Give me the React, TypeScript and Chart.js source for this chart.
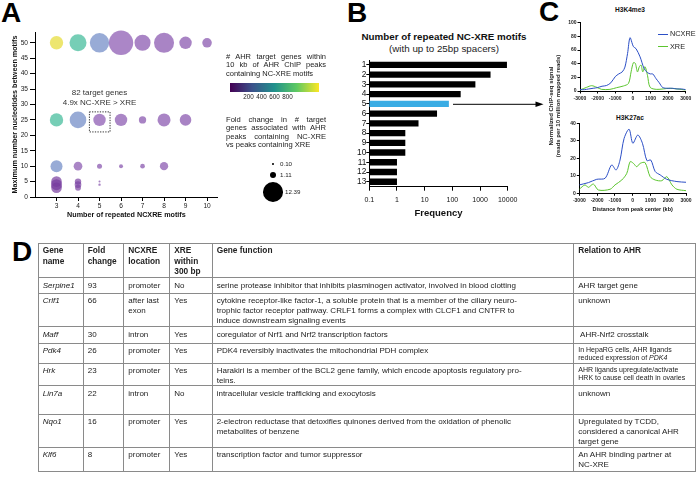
import React, { useEffect, useRef } from "react";
import { Chart, registerables } from "chart.js";

Chart.register(...registerables);

const FONT = '"Liberation Sans", Arial, Helvetica, sans-serif';
const BLUE = "#2c4fc6";
const GREEN = "#5cc52f";

// ---------- Panel A: bubble chart ----------
const bubbleX = [3, 4, 5, 6, 7, 8, 9, 10, 3, 4, 5, 6, 7, 8, 9, 3, 4, 5, 6, 7, 8, 3, 3, 3, 4, 4, 4, 5, 5];
const bubbleY = [50, 50, 50, 50, 50, 50, 50, 50, 25, 25, 25, 25, 25, 25, 25, 10, 10, 10, 10, 10, 10, 5, 4, 3, 5, 4, 3, 5, 4];
const bubbleFold = [5.7, 9.2, 12.0, 19.0, 8.2, 12.8, 4.9, 2.9, 5.7, 8.8, 4.9, 4.9, 1.7, 5.4, 4.3, 4.6, 2.4, 0.8, 0.5, 0.7, 2.2, 3.6, 3.9, 3.6, 1.3, 1.4, 1.1, 0.13, 0.18];
const bubbleGenes = [920, 560, 360, 180, 170, 170, 165, 165, 560, 360, 180, 175, 165, 170, 165, 360, 175, 165, 160, 160, 170, 110, 110, 110, 130, 130, 130, 160, 160];
const aXTicks = [3, 4, 5, 6, 7, 8, 9, 10];
const aYTicks = [0, 5, 10, 15, 20, 25, 30, 35, 40, 45, 50];
const annoLines = ["82 target genes", "4.9x NC-XRE > XRE"];
const annoLineY = [33.8, 30.5];
const annoTextX = 5;
const annoBox = { x0: 4.53, x1: 5.49, y0: 21.1, y1: 27.6 };

// legend of panel A
const geneLegendTicks = [200, 400, 600, 800];
const geneLegendRange = [-85, 1285];
const foldLegend = [0.1, 1.11, 12.39];
const foldLegendLabels = ["0.10", "1.11", "12.39"];

// ---------- Panel B: horizontal log bars ----------
const motifCounts = ["1", "2", "3", "4", "5", "6", "7", "8", "9", "10", "11", "12", "13"];
const motifFreq = [9400, 2400, 680, 200, 75, 28, 6, 2, 2, 2, 1, 1, 1];
const highlightedCount = "5";
const freqTicks = [0.1, 1, 10, 100, 1000, 10000];

// ---------- Panel C: profiles ----------
const distTicks = [-3000, -2000, -1000, 0, 1000, 2000, 3000];
const k4Ticks = [0, 20, 40, 60, 80, 100];
const k27Ticks = [0, 10, 20, 30, 40];

const k4NcPos = [-3000, -2750, -2500, -2250, -2000, -1750, -1500, -1250, -1000, -800, -600, -450, -300, -160, 30, 180, 410, 636, 826, 1000, 1130, 1320, 1500, 1700, 2000, 2250, 2500, 2750, 3000];
const k4NcVal = [2, 2, 3, 4, 5, 7, 8, 12, 21, 25, 28, 35, 55, 78, 65, 62, 50, 33, 27, 25, 25, 18, 12, 5, 4, 4, 3, 3, 2];
const k4XrPos = [-3000, -2620, -2340, -2050, -1770, -1300, -920, -540, -250, -100, 30, 140, 260, 370, 470, 560, 690, 830, 980, 1360, 2110, 3000];
const k4XrVal = [1.5, 5.4, 7.8, 5.4, 2.4, 2.4, 4.9, 7.3, 11, 28, 41.5, 40.5, 28, 35.6, 38, 28, 35.6, 23, 5.4, 2.4, 3.9, 1.5];

const k27NcPos = [-3000, -2490, -2020, -1550, -1180, -930, -710, -480, -200, 10, 290, 550, 800, 1020, 1270, 1550, 1920, 2490, 3000];
const k27NcVal = [4.8, 6.1, 8, 8.6, 16.2, 13.3, 19, 31.4, 36.6, 28.6, 33.3, 28.6, 18.7, 19, 12.4, 10.5, 8, 6.7, 6.3];
const k27XrPos = [-3000, -2680, -2490, -2210, -1930, -1270, -990, -610, -330, -140, 45, 230, 420, 700, 985, 1270, 1640, 1920, 2210, 2490, 3000];
const k27XrVal = [2.3, 4.8, 3.4, 5.3, 1.9, 2.3, 4.8, 7.6, 11.4, 18.1, 17.1, 15.2, 17.1, 17.5, 9.5, 7.6, 7.2, 9.5, 4.8, 2.3, 1.5];

// ---------- Panel D: table ----------
const tableHeaders = ["Gene\nname", "Fold\nchange", "NCXRE\nlocation", "XRE\nwithin\n300 bp", "Gene function", "Relation to AHR"];
const geneNames = ["Serpine1", "Crlf1", "Maff", "Pdk4", "Hrk", "Lin7a", "Nqo1", "Klf6"];
const foldChange = ["93", "66", "30", "26", "23", "22", "16", "8"];
const ncxreLocation = ["promoter", "after last\nexon", "intron", "promoter", "promoter", "intron", "promoter", "promoter"];
const xreWithin = ["No", "Yes", "Yes", "Yes", "Yes", "No", "Yes", "Yes"];
const geneFunction = [
  "serine protease inhibitor that inhibits plasminogen activator, involved in blood clotting",
  "cytokine receptor-like factor-1, a soluble protein that is a member of the ciliary neuro-\ntrophic factor receptor pathway. CRLF1 forms a complex with CLCF1 and CNTFR to\ninduce downstream signaling events",
  "coregulator of Nrf1 and Nrf2 transcription factors",
  "PDK4 reversibly inactivates the mitochondrial PDH complex",
  "Harakiri is a member of the BCL2 gene family, which encode apoptosis regulatory pro-\nteins.",
  "intracellular vesicle trafficking and exocytosis",
  "2-electron reductase that detoxifies quinones derived from the oxidation of phenolic\nmetabolites of benzene",
  "transcription factor and tumor suppressor",
];
const relationToAhr = [
  "AHR target gene",
  "unknown",
  " AHR-Nrf2 crosstalk",
  "In HepaRG cells, AHR ligands\nreduced expression of *PDK4*",
  "AHR ligands upregulate/activate\nHRK to cause cell death in ovaries",
  "unknown",
  "Upregulated by TCDD,\nconsidered a canonical AHR\ntarget gene",
  "An AHR binding partner at\nNC-XRE",
];
const relationSmall = [false, false, false, true, true, false, false, false];
const colWidths = [45, 40.6, 46, 42.4, 361.6, 121.7];
const rowHeights = [15.7, 33.5, 16.2, 19, 21.6, 28.7, 33, 24.3];

// ---------- helpers ----------
const foldRadius = (f: number) => 2.8 * Math.sqrt(f);

const colorStops: [number, number[]][] = [
  [80, [110, 50, 150]],
  [200, [140, 90, 180]],
  [350, [111, 132, 199]],
  [550, [55, 184, 154]],
  [950, [244, 222, 42]],
];
function geneColor(g: number) {
  let i = 0;
  while (i < colorStops.length - 2 && g > colorStops[i + 1][0]) i++;
  const [g0, c0] = colorStops[i];
  const [g1, c1] = colorStops[i + 1];
  const t = Math.max(0, Math.min(1, (g - g0) / (g1 - g0)));
  const c = c0.map((v, k) => Math.round(v + (c1[k] - v) * t));
  return `rgba(${c[0]},${c[1]},${c[2]},0.7)`;
}

const fixedTicks = (vals: number[]) => (s: any) => {
  s.ticks = vals.map((v) => ({ value: v }));
};

const annotationPlugin = {
  id: "annoA",
  afterDatasetsDraw(chart: any) {
    const { ctx } = chart;
    const xs = chart.scales.x;
    const ys = chart.scales.y;
    ctx.save();
    ctx.strokeStyle = "#333";
    ctx.lineWidth = 1;
    ctx.setLineDash([1.3, 1.3]);
    const x0 = xs.getPixelForValue(annoBox.x0);
    const x1 = xs.getPixelForValue(annoBox.x1);
    const y0 = ys.getPixelForValue(annoBox.y1);
    const y1 = ys.getPixelForValue(annoBox.y0);
    ctx.strokeRect(x0, y0, x1 - x0, y1 - y0);
    ctx.setLineDash([]);
    ctx.fillStyle = "#333";
    ctx.font = `8px ${FONT}`;
    ctx.textAlign = "center";
    ctx.textBaseline = "middle";
    annoLines.forEach((l, i) => {
      ctx.fillText(l, xs.getPixelForValue(annoTextX), ys.getPixelForValue(annoLineY[i]));
    });
    ctx.restore();
  },
};

const axisGrid = (len: number) => ({ drawOnChartArea: false, tickLength: len, color: "#000", lineWidth: 1 });
const axisBorder = { color: "#000", width: 1 };

function configA() {
  return {
    type: "bubble",
    data: {
      datasets: [
        {
          data: bubbleX.map((x, i) => ({ x, y: bubbleY[i], r: foldRadius(bubbleFold[i]) })),
          backgroundColor: bubbleGenes.map(geneColor),
          borderWidth: 0,
          hoverBorderWidth: 0,
          clip: false,
        },
      ],
    },
    options: {
      responsive: false,
      animation: false,
      events: [],
      layout: { padding: { top: 32, right: 10, left: 0, bottom: 0 } },
      plugins: { legend: { display: false }, tooltip: { enabled: false } },
      scales: {
        x: {
          type: "linear",
          min: 2,
          max: 10.5,
          afterBuildTicks: fixedTicks(aXTicks),
          afterFit: (s: any) => {
            s.height = 28;
          },
          grid: axisGrid(4),
          border: axisBorder,
          ticks: { callback: (v: any) => String(v), font: { size: 6.6, family: FONT }, color: "#222", padding: 1, maxRotation: 0, autoSkip: false },
          title: {
            display: true,
            text: "Number of repeated NCXRE motifs",
            font: { size: 7.2, weight: "bold", family: FONT },
            color: "#111",
            padding: { top: 0, bottom: 5.7 },
          },
        },
        y: {
          type: "linear",
          min: 0,
          max: 53.5,
          afterBuildTicks: fixedTicks(aYTicks),
          afterFit: (s: any) => {
            s.width = 35;
          },
          grid: axisGrid(5),
          border: axisBorder,
          ticks: { callback: (v: any) => String(v), font: { size: 6.6, family: FONT }, color: "#222", padding: 2, autoSkip: false },
          title: {
            display: true,
            text: "Maximum number nucleotides between motifs",
            font: { size: 7.2, weight: "bold", family: FONT },
            color: "#111",
            padding: { top: 10.7, bottom: 0 },
          },
        },
      },
    },
    plugins: [annotationPlugin],
  };
}

function configB() {
  return {
    type: "bar",
    data: {
      labels: motifCounts,
      datasets: [
        {
          data: motifFreq,
          backgroundColor: motifCounts.map((c) => (c === highlightedCount ? "#39ace4" : "#000")),
          barPercentage: 0.66,
          categoryPercentage: 1,
        },
      ],
    },
    options: {
      indexAxis: "y",
      responsive: false,
      animation: false,
      events: [],
      layout: { padding: { top: 5, right: 32.3, left: 0, bottom: 0 } },
      plugins: { legend: { display: false }, tooltip: { enabled: false } },
      scales: {
        x: {
          type: "logarithmic",
          min: 0.1,
          max: 10000,
          afterBuildTicks: fixedTicks(freqTicks),
          afterFit: (s: any) => {
            s.height = 33.3;
          },
          grid: axisGrid(4),
          border: axisBorder,
          ticks: { callback: (v: any) => String(v), font: { size: 7, family: FONT }, color: "#111", padding: 5, maxRotation: 0, autoSkip: false },
          title: {
            display: true,
            text: "Frequency",
            font: { size: 9.5, weight: "bold", family: FONT },
            color: "#111",
            padding: { top: 0, bottom: 1 },
          },
        },
        y: {
          afterFit: (s: any) => {
            s.width = 49.3;
          },
          grid: { ...axisGrid(3), offset: false },
          border: axisBorder,
          ticks: { font: { size: 8.3, family: FONT }, color: "#111", padding: 0, autoSkip: false },
        },
      },
    },
  };
}

function configC(o: any) {
  const line = (xs: number[], ys: number[], color: string) => ({
    data: xs.map((x, i) => ({ x, y: ys[i] })),
    borderColor: color,
    backgroundColor: color,
    showLine: true,
    pointRadius: 0,
    borderWidth: 1,
    tension: 0.3,
  });
  return {
    type: "scatter",
    data: { datasets: [line(o.ncX, o.ncY, BLUE), line(o.xrX, o.xrY, GREEN)] },
    options: {
      responsive: false,
      animation: false,
      events: [],
      layout: { padding: { top: o.padTop, right: o.padRight, left: 0, bottom: 0 } },
      plugins: { legend: { display: false }, tooltip: { enabled: false } },
      scales: {
        x: {
          type: "linear",
          min: -3000,
          max: 3000,
          afterBuildTicks: fixedTicks(distTicks),
          afterFit: (s: any) => {
            s.height = o.xHeight;
          },
          grid: axisGrid(2.5),
          border: axisBorder,
          ticks: { callback: (v: any) => String(v), font: { size: 5, weight: "bold", family: FONT }, color: "#222", padding: o.xTickPad, maxRotation: 0, autoSkip: false },
          title: o.xTitle
            ? { display: true, text: o.xTitle, font: { size: 5.5, weight: "bold", family: FONT }, color: "#111", padding: { top: 0, bottom: o.titlePad } }
            : { display: false },
        },
        y: {
          type: "linear",
          min: 0,
          max: o.yMax,
          afterBuildTicks: fixedTicks(o.yTicks),
          afterFit: (s: any) => {
            s.width = o.yWidth;
          },
          grid: axisGrid(2.5),
          border: axisBorder,
          ticks: { callback: (v: any) => String(v), font: { size: 5, weight: "bold", family: FONT }, color: "#222", padding: 1, autoSkip: false },
        },
      },
    },
  };
}

function ChartCanvas({ left, top, width, height, make }: any) {
  const ref = useRef<HTMLCanvasElement>(null);
  useEffect(() => {
    const chart = new Chart(ref.current as HTMLCanvasElement, make());
    return () => chart.destroy();
  }, []);
  return <canvas ref={ref} width={width} height={height} style={{ position: "absolute", left, top, width, height }} />;
}

function T({ x, y, size, bold, italic, align = "center", color = "#111", children }: any) {
  return (
    <div
      style={{
        position: "absolute",
        left: x,
        top: y,
        fontSize: size,
        fontWeight: bold ? "bold" : "normal",
        fontStyle: italic ? "italic" : "normal",
        color,
        lineHeight: `${size * 1.2}px`,
        whiteSpace: "nowrap",
        transform: align === "center" ? "translate(-50%,-50%)" : "translate(0,-50%)",
      }}
    >
      {children}
    </div>
  );
}

function JustLines({ x, y, dy, width, size, lines }: any) {
  return (
    <>
      {lines.map((l: string, i: number) => (
        <div
          key={i}
          style={{
            position: "absolute",
            left: x,
            top: y + i * dy,
            width,
            fontSize: size,
            lineHeight: `${size * 1.2}px`,
            transform: "translateY(-50%)",
            textAlign: "justify",
            textAlignLast: i < lines.length - 1 ? "justify" : "left",
            whiteSpace: "nowrap",
            color: "#222",
          } as any}
        >
          {l}
        </div>
      ))}
    </>
  );
}

function Letter({ x, y, ch }: any) {
  return (
    <div style={{ position: "absolute", left: x, top: y, fontSize: 28, fontWeight: "bold", lineHeight: "28px", color: "#000" }}>{ch}</div>
  );
}

function renderRich(s: string) {
  return s.split("*").map((part, i) => (i % 2 === 1 ? <i key={i}>{part}</i> : <React.Fragment key={i}>{part}</React.Fragment>));
}

function GeneTable() {
  const cell: any = {
    border: "1px solid #8a8a8a",
    padding: "2.4px 2px 0 4px",
    verticalAlign: "top",
    whiteSpace: "pre",
    lineHeight: "9.6px",
    overflow: "hidden",
  };
  return (
    <table
      style={{
        position: "absolute",
        left: 37.7,
        top: 243.3,
        width: 657.3,
        borderCollapse: "collapse",
        tableLayout: "fixed",
        border: "1.5px solid #555",
        fontSize: 8,
        fontFamily: FONT,
        color: "#222",
      }}
    >
      <colgroup>
        {colWidths.map((w, i) => (
          <col key={i} style={{ width: w }} />
        ))}
      </colgroup>
      <tbody>
        <tr style={{ height: 34 }}>
          {tableHeaders.map((h, i) => (
            <td key={i} style={{ ...cell, fontWeight: "bold", fontSize: 8.3, lineHeight: "10.5px", paddingTop: 1.2 }}>
              {h}
            </td>
          ))}
        </tr>
        {geneNames.map((g, r) => (
          <tr key={g} style={{ height: rowHeights[r] }}>
            <td style={{ ...cell, fontStyle: "italic" }}>{g}</td>
            <td style={cell}>{foldChange[r]}</td>
            <td style={cell}>{ncxreLocation[r]}</td>
            <td style={cell}>{xreWithin[r]}</td>
            <td style={cell}>{geneFunction[r]}</td>
            <td style={relationSmall[r] ? { ...cell, fontSize: 7, lineHeight: "8.5px", paddingTop: 2 } : cell}>{renderRich(relationToAhr[r])}</td>
          </tr>
        ))}
      </tbody>
    </table>
  );
}

export default function App() {
  const cbLeft = 230;
  const cbWidth = 89;
  const cbPos = (v: number) => cbLeft + ((v - geneLegendRange[0]) / (geneLegendRange[1] - geneLegendRange[0])) * cbWidth;
  const foldLegendY = [164, 175, 191.7];
  const foldLabelX = [280, 280, 285];
  return (
    <div
      style={{
        position: "absolute",
        left: 0,
        top: 0,
        width: 700,
        height: 477,
        background: "#fff",
        overflow: "hidden",
        fontFamily: FONT,
      }}
    >
      <Letter x={1} y={-0.7} ch="A" />
      <Letter x={347} y={-0.7} ch="B" />
      <Letter x={539} y={-1.7} ch="C" />
      <Letter x={12} y={238.3} ch="D" />

      {/* Panel A */}
      <ChartCanvas left={0} top={0} width={230} height={225} make={configA} />
      <JustLines x={226} y={55.7} dy={8.5} width={100} size={7.5} lines={["# AHR target genes within", "10 kb of AHR ChIP peaks", "containing NC-XRE motifs"]} />
      <div
        style={{
          position: "absolute",
          left: cbLeft,
          top: 83.3,
          width: cbWidth,
          height: 8.4,
          background: "linear-gradient(to right, #440154, #3b528b 25%, #21918c 50%, #5ec962 75%, #fde725)",
        }}
      />
      {geneLegendTicks.map((v) => (
        <T key={v} x={cbPos(v)} y={97.3} size={6.3} color="#222">
          {String(v)}
        </T>
      ))}
      <JustLines
        x={226}
        y={120}
        dy={8.35}
        width={100}
        size={7.6}
        lines={["Fold change in # target", "genes associated with AHR", "peaks containing NC-XRE", "vs peaks containing XRE"]}
      />
      {foldLegend.map((f, i) => {
        const r = foldRadius(f);
        return (
          <React.Fragment key={i}>
            <div
              style={{
                position: "absolute",
                left: 273.3 - r,
                top: foldLegendY[i] - r,
                width: 2 * r,
                height: 2 * r,
                borderRadius: "50%",
                background: "#000",
              }}
            />
            <T x={foldLabelX[i]} y={foldLegendY[i]} size={6.2} align="left" color="#222">
              {foldLegendLabels[i]}
            </T>
          </React.Fragment>
        );
      })}

      {/* Panel B */}
      <T x={444} y={36.7} size={9.8} bold>
        Number of repeated NC-XRE motifs
      </T>
      <T x={444} y={49.3} size={9.8} color="#222">
        (with up to 25bp spacers)
      </T>
      <ChartCanvas left={320} top={55} width={220} height={165} make={configB} />

      {/* Panel C */}
      <T x={630} y={10} size={6.6} bold>
        H3K4me3
      </T>
      <T x={630} y={117.5} size={6.6} bold>
        H3K27ac
      </T>
      <ChartCanvas
        left={560}
        top={18}
        width={135}
        height={90}
        make={() =>
          configC({
            ncX: k4NcPos,
            ncY: k4NcVal,
            xrX: k4XrPos,
            xrY: k4XrVal,
            yMax: 100,
            yTicks: k4Ticks,
            padTop: 4.7,
            padRight: 9.3,
            yWidth: 20,
            xHeight: 17,
            xTickPad: 2.5,
          })
        }
      />
      <ChartCanvas
        left={560}
        top={118}
        width={135}
        height={102}
        make={() =>
          configC({
            ncX: k27NcPos,
            ncY: k27NcVal,
            xrX: k27XrPos,
            xrY: k27XrVal,
            yMax: 40,
            yTicks: k27Ticks,
            padTop: 5.3,
            padRight: 9,
            yWidth: 19.3,
            xHeight: 26.7,
            xTickPad: 1.5,
            xTitle: "Distance from peak center (kb)",
            titlePad: 7,
          })
        }
      />
      <div style={{ position: "absolute", left: 657.7, top: 33.7, width: 10.6, height: 1.2, background: BLUE }} />
      <T x={670} y={34.3} size={7.3} align="left" color="#222">
        NCXRE
      </T>
      <div style={{ position: "absolute", left: 657.7, top: 46.1, width: 10.6, height: 1.2, background: GREEN }} />
      <T x={670} y={46.7} size={7.3} align="left" color="#222">
        XRE
      </T>
      <div
        style={{
          position: "absolute",
          left: 555,
          top: 106,
          transform: "translate(-50%,-50%) rotate(-90deg)",
          fontSize: 6,
          fontWeight: "bold",
          lineHeight: "7px",
          textAlign: "center",
          whiteSpace: "nowrap",
          color: "#222",
        }}
      >
        Normalized ChIP-seq signal
        <br />
        (reads per 10 million mapped reads)
      </div>

      {/* arrow from B to C */}
      <svg width={700} height={477} style={{ position: "absolute", left: 0, top: 0, pointerEvents: "none" }}>
        <line x1={453} y1={104.3} x2={538} y2={104.3} stroke="#000" strokeWidth={1} />
        <polygon points="543.5,104.3 535.5,101.6 535.5,107" fill="#000" />
      </svg>

      {/* Panel D */}
      <GeneTable />
    </div>
  );
}
